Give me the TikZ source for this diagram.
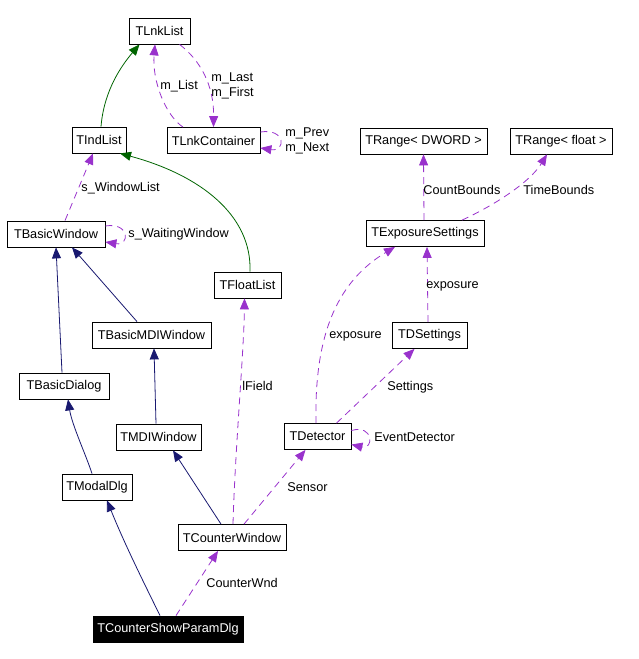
\documentclass[tikz,border=0pt]{standalone}
\usepackage{fontspec}
\setmainfont{Liberation Sans}
\usetikzlibrary{arrows.meta}

\definecolor{inhblue}{RGB}{25,25,112}
\definecolor{inhgreen}{RGB}{0,100,0}
\definecolor{usepurple}{RGB}{153,50,204}

\begin{document}
\begin{tikzpicture}[x=1pt, y=-1pt, >={Triangle[length=11pt,width=9pt]},
  every node/.style={font=\fontsize{12.7}{14}\selectfont},
  cls/.style={draw, line width=0.8pt, inner sep=0pt, minimum height=26pt},
  lbl/.style={inner sep=1pt, align=left, text=black, font=\fontsize{12.7}{15.5}\selectfont},
  pubinh/.style={->, inhblue, line width=0.8pt},
  protinh/.style={->, inhgreen, line width=0.8pt},
  usage/.style={->, usepurple, line width=0.8pt, dash pattern=on 7pt off 5pt}]
  \useasboundingbox (0,0) rectangle (638,659);

  % classes
  \node[cls, minimum width=61pt] (tlnklist) at (159.5,31) {TLnkList};
  \node[cls, minimum width=54pt] (tindlist) at (99,140) {TIndList};
  \node[cls, minimum width=93pt] (tlnkcont) at (213.5,140.5) {TLnkContainer};
  \node[cls, minimum width=127pt] (trdword) at (423.5,141) {TRange< DWORD >};
  \node[cls, minimum width=102pt] (trfloat) at (561,141) {TRange< float >};
  \node[cls, minimum width=98pt] (tbasicwin) at (56,234) {TBasicWindow};
  \node[cls, minimum width=118pt] (texpo) at (425,233.5) {TExposureSettings};
  \node[cls, minimum width=67pt] (tfloat) at (247.5,285) {TFloatList};
  \node[cls, minimum width=119pt] (tbasicmdi) at (151.5,335) {TBasicMDIWindow};
  \node[cls, minimum width=75pt] (tdsett) at (429.5,335.5) {TDSettings};
  \node[cls, minimum width=90pt] (tbasicdlg) at (64,386) {TBasicDialog};
  \node[cls, minimum width=85pt] (tmdi) at (158.5,437) {TMDIWindow};
  \node[cls, minimum width=67pt] (tdet) at (317.5,436.5) {TDetector};
  \node[cls, minimum width=70pt] (tmodal) at (97,487) {TModalDlg};
  \node[cls, minimum width=108pt] (tcw) at (232,537.5) {TCounterWindow};
  \node[cls, minimum width=150pt, fill=black, text=white] (tcspd) at (168,629) {TCounterShowParamDlg};

  % inheritance
  \draw[protinh] ([xshift=2pt]tindlist.north) .. controls (104,90) and (122,65) .. ([xshift=-20pt]tlnklist.south);
  \draw[protinh] ([xshift=2.5pt]tfloat.north) .. controls (252,215) and (200,175) .. ([xshift=21pt]tindlist.south);
  \draw[pubinh] ([xshift=-14.5pt]tbasicmdi.north) -- ([xshift=16pt]tbasicwin.south);
  \draw[pubinh] ([xshift=-2pt]tbasicdlg.north) -- (tbasicwin.south);
  \draw[pubinh] ([xshift=-5pt]tmodal.north) .. controls (86,455) and (72,425) .. ([xshift=4pt]tbasicdlg.south);
  \draw[pubinh] ([xshift=-2.5pt]tmdi.north) -- ([xshift=2.5pt]tbasicmdi.south);
  \draw[pubinh] ([xshift=-11pt]tcw.north) -- ([xshift=14.5pt]tmdi.south);
  \draw[pubinh] ([xshift=-8pt]tcspd.north) .. controls (145,585) and (125,545) .. ([xshift=10pt]tmodal.south);

  % usage
  \draw[usage] ([xshift=-30.5pt]tlnkcont.north) .. controls (165,115) and (152,80) .. ([xshift=-4.5pt]tlnklist.south)
    node[lbl, anchor=west] at (159,86) {m\_List};
  \draw[usage] ([xshift=20pt]tlnklist.south) .. controls (200,60) and (214,85) .. (tlnkcont.north)
    node[lbl, anchor=west] at (210,86) {m\_Last\\m\_First};
  \draw[usage] ([yshift=8.5pt]tlnkcont.east) .. controls (286,128) and (286,152) .. ([yshift=-7.5pt]tlnkcont.east)
    node[lbl, anchor=west] at (284,141) {m\_Prev\\m\_Next};
  \draw[usage] ([xshift=9pt]tbasicwin.north) -- ([xshift=-6pt]tindlist.south)
    node[lbl, anchor=west] at (80,188) {s\_WindowList};
  \draw[usage] ([yshift=8pt]tbasicwin.east) .. controls (130,222) and (130,246) .. ([yshift=-8pt]tbasicwin.east)
    node[lbl, anchor=west] at (127,234) {s\_WaitingWindow};
  \draw[usage] ([xshift=8pt]tcspd.north) -- ([xshift=-14pt]tcw.south)
    node[lbl, anchor=west] at (205,583) {CounterWnd};
  \draw[usage] ([xshift=1pt]tcw.north) .. controls (235,450) and (244,350) .. ([xshift=-3pt]tfloat.south)
    node[lbl, anchor=west] at (241,386) {lField};
  \draw[usage] ([xshift=12pt]tcw.north) -- ([xshift=-12pt]tdet.south)
    node[lbl, anchor=west] at (286,487) {Sensor};
  \draw[usage] ([xshift=-1.5pt]tdet.north) .. controls (314,330) and (340,280) .. ([xshift=-30pt]texpo.south)
    node[lbl, anchor=west] at (328,336) {exposure};
  \draw[usage] ([xshift=19pt]tdet.north) -- ([xshift=-15pt]tdsett.south)
    node[lbl, anchor=west] at (386,387) {Settings};
  \draw[usage] ([yshift=6pt]tdet.east) .. controls (374,424) and (374,450) .. ([yshift=-8pt]tdet.east)
    node[lbl, anchor=west] at (373,437) {EventDetector};
  \draw[usage] ([xshift=-1.5pt]tdsett.north) -- ([xshift=2pt]texpo.south)
    node[lbl, anchor=west] at (425,286) {exposure};
  \draw[usage] ([xshift=-1pt]texpo.north) -- (trdword.south)
    node[lbl, anchor=west] at (422,190) {CountBounds};
  \draw[usage] ([xshift=37pt]texpo.north) .. controls (495,205) and (530,182) .. ([xshift=-14pt]trfloat.south)
    node[lbl, anchor=west] at (522,190) {TimeBounds};
\end{tikzpicture}
\end{document}
